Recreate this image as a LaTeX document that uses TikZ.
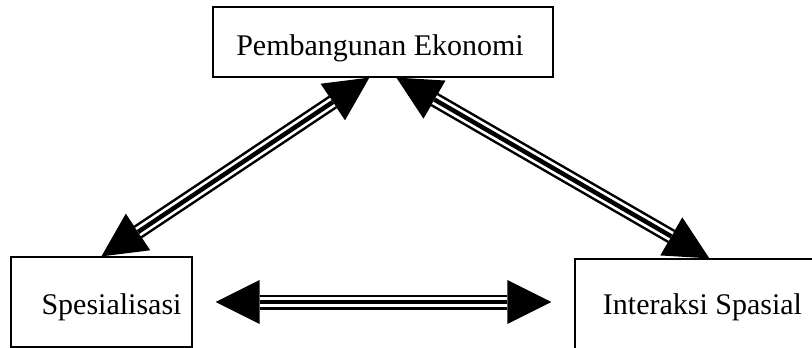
\documentclass[tikz,border=0pt]{standalone}
\usepackage{fontspec}
\setmainfont{Liberation Serif}
\usetikzlibrary{arrows.meta,calc}

% three-stripe double-headed connector
\newcommand\triplelink[2]{%
  \draw[line width=15pt,
        {Triangle[length=44pt,width=44pt,line width=0pt]}-{Triangle[length=44pt,width=44pt,line width=0pt]}]
        (#1) -- (#2);
  \draw[white,line width=10pt,shorten <=44pt,shorten >=44pt] (#1) -- (#2);
  \draw[line width=4.5pt,shorten <=44pt,shorten >=44pt] (#1) -- (#2);}

\begin{document}
\begin{tikzpicture}[x=1pt,y=-1pt,
  box/.style={draw,line width=1.2pt,inner sep=0pt},
  lbl/.style={anchor=base,inner sep=0pt,font=\fontsize{30}{36}\selectfont}]
\clip (0,0) rectangle (812,348);
\fill[white] (0,0) rectangle (812,348);

% boxes
\node[box,minimum width=340pt,minimum height=70pt] (eko) at (383,42) {};
\node[box,minimum width=181pt,minimum height=90pt] (spes) at (101.5,302) {};
\node[box,minimum width=300pt,minimum height=120pt] (inter) at (725,319) {};

% labels
\node[lbl] (ekot) at (380,55) {Pembangunan Ekonomi};
\node[lbl] (spest) at (111.5,314) {Spesialisasi};
\node[lbl] (intert) at (702.5,314) {Interaksi Spasial};

% connectors
\triplelink{[xshift=91pt]spes.north west}{[xshift=157pt]eko.south west}
\triplelink{[xshift=184pt]eko.south west}{[xshift=135pt]inter.north west}
\triplelink{[xshift=23pt]spes.east}{$(spes.east -| inter.west)+(-23,0)$}
\end{tikzpicture}
\end{document}
